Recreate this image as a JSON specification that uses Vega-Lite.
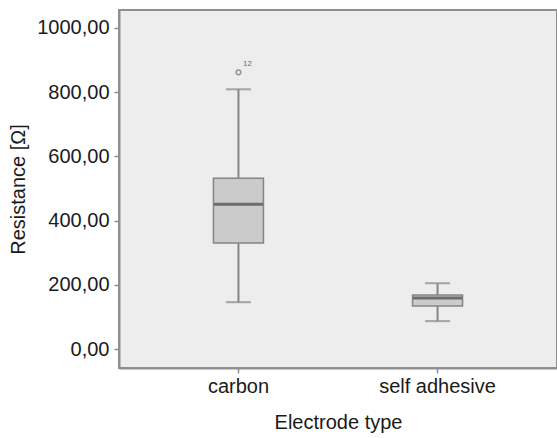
{
  "$schema": "https://vega.github.io/schema/vega-lite/v6.json",
  "width": 438,
  "height": 358,
  "autosize": {"type": "none"},
  "padding": {"left": 119, "top": 10, "right": 0, "bottom": 70},
  "background": "white",
  "config": {
    "view": {"fill": "#ecedec", "stroke": "#8f8f8f", "strokeWidth": 2},
    "font": "Liberation Sans",
    "axis": {
      "labelFont": "Liberation Sans",
      "titleFont": "Liberation Sans",
      "labelColor": "#1a1a1a",
      "titleColor": "#1a1a1a",
      "labelFontSize": 20,
      "titleFontSize": 20,
      "titleFontWeight": "normal",
      "domainColor": "#8f8f8f",
      "domainWidth": 2,
      "tickColor": "#8f8f8f",
      "tickWidth": 1.5,
      "tickSize": 5,
      "grid": false
    }
  },
  "datasets": {
    "boxes": [
      {"type": "carbon", "lo": 146, "q1": 330, "median": 451, "q3": 532, "hi": 809},
      {"type": "self adhesive", "lo": 87, "q1": 134, "median": 159, "q3": 168, "hi": 205}
    ],
    "outliers": [
      {"type": "carbon", "value": 862, "case": "12"}
    ]
  },
  "layer": [
    {
      "data": {"name": "boxes"},
      "mark": {"type": "rule", "color": "#858585", "strokeWidth": 2},
      "encoding": {
        "x": {"field": "type", "type": "nominal", "sort": null,
          "scale": {"paddingInner": 0, "paddingOuter": 0.1},
          "axis": {"title": "Electrode type", "labelAngle": 0, "labelPadding": 3, "titlePadding": 16}},
        "y": {"field": "lo", "type": "quantitative",
          "scale": {"domain": [-59, 1056], "nice": false, "zero": false},
          "axis": {"title": "Resistance [Ω]", "values": [0, 200, 400, 600, 800, 1000],
            "labelExpr": "replace(format(datum.value, '.2f'), '.', ',')",
            "labelPadding": 5, "titlePadding": 8}},
        "y2": {"field": "hi"}
      }
    },
    {
      "data": {"name": "boxes"},
      "mark": {"type": "tick", "color": "#858585", "thickness": 2, "size": 25},
      "encoding": {
        "x": {"field": "type", "type": "nominal", "sort": null},
        "y": {"field": "lo", "type": "quantitative"}
      }
    },
    {
      "data": {"name": "boxes"},
      "mark": {"type": "tick", "color": "#858585", "thickness": 2, "size": 25},
      "encoding": {
        "x": {"field": "type", "type": "nominal", "sort": null},
        "y": {"field": "hi", "type": "quantitative"}
      }
    },
    {
      "data": {"name": "boxes"},
      "mark": {"type": "bar", "size": 50, "fill": "#cbcbcc", "stroke": "#858585", "strokeWidth": 1.5},
      "encoding": {
        "x": {"field": "type", "type": "nominal", "sort": null},
        "y": {"field": "q1", "type": "quantitative"},
        "y2": {"field": "q3"}
      }
    },
    {
      "data": {"name": "boxes"},
      "mark": {"type": "tick", "color": "#454545", "thickness": 3, "size": 49},
      "encoding": {
        "x": {"field": "type", "type": "nominal", "sort": null},
        "y": {"field": "median", "type": "quantitative"}
      }
    },
    {
      "data": {"name": "outliers"},
      "mark": {"type": "point", "shape": "circle", "filled": false, "size": 22, "stroke": "#707070", "strokeWidth": 1.5},
      "encoding": {
        "x": {"field": "type", "type": "nominal", "sort": null},
        "y": {"field": "value", "type": "quantitative"}
      }
    },
    {
      "data": {"name": "outliers"},
      "mark": {"type": "text", "fontSize": 8, "color": "#707070", "dx": 9, "dy": -8, "font": "Liberation Sans"},
      "encoding": {
        "x": {"field": "type", "type": "nominal", "sort": null},
        "y": {"field": "value", "type": "quantitative"},
        "text": {"field": "case"}
      }
    }
  ]
}
